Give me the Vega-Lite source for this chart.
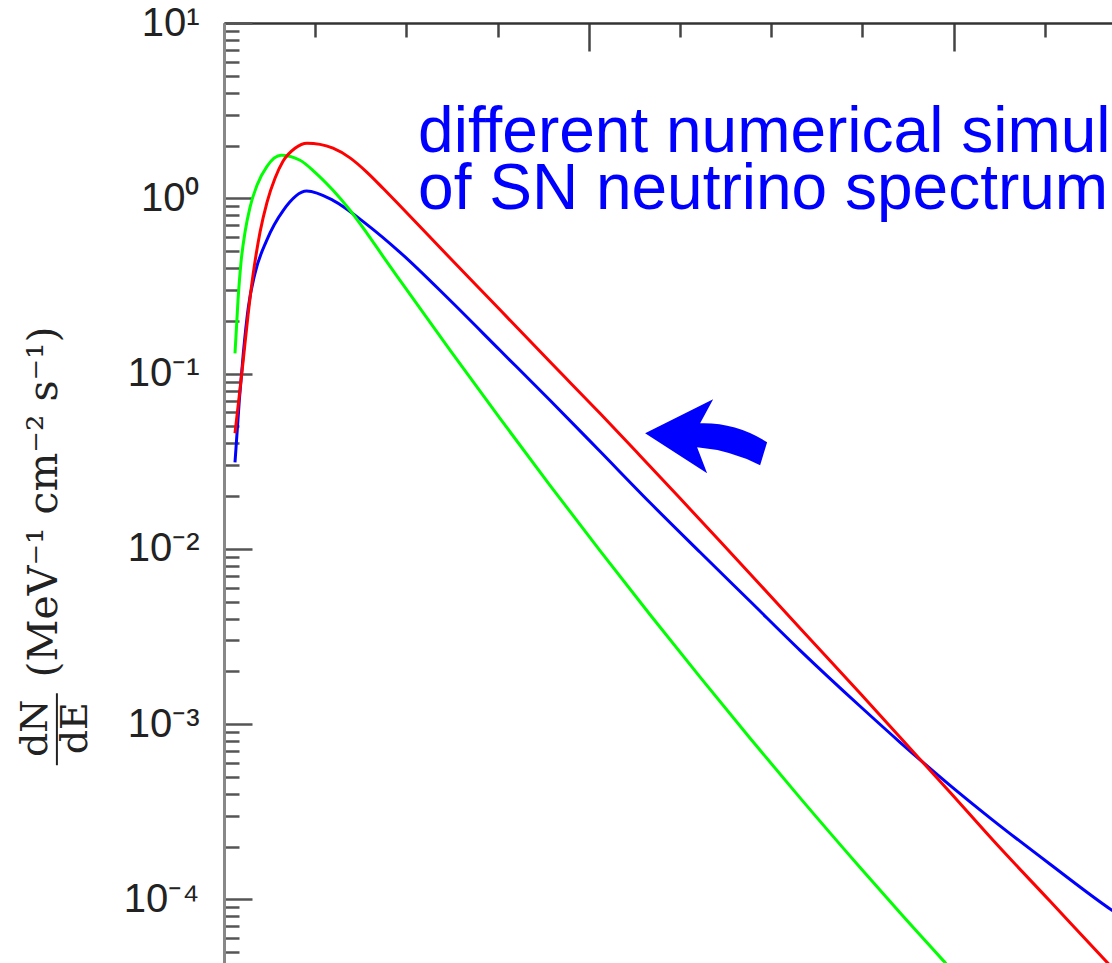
{
  "$schema": "https://vega.github.io/schema/vega-lite/v6.json",
  "width": 888,
  "height": 940,
  "autosize": {"type": "none"},
  "padding": {"left": 224, "top": 23, "right": 0, "bottom": 0},
  "background": "white",
  "config": {"view": {"stroke": null}},
  "data": {
    "values": [
      {"series": "blue", "E": 0.603, "dNdE": 0.03114},
      {"series": "blue", "E": 0.839, "dNdE": 0.07036},
      {"series": "blue", "E": 1.058, "dNdE": 0.1304},
      {"series": "blue", "E": 1.332, "dNdE": 0.2385},
      {"series": "blue", "E": 1.7, "dNdE": 0.3731},
      {"series": "blue", "E": 2.341, "dNdE": 0.5755},
      {"series": "blue", "E": 3.251, "dNdE": 0.8538},
      {"series": "blue", "E": 4.534, "dNdE": 1.1},
      {"series": "blue", "E": 5.976, "dNdE": 0.9736},
      {"series": "blue", "E": 7.823, "dNdE": 0.7101},
      {"series": "blue", "E": 9.649, "dNdE": 0.4916},
      {"series": "blue", "E": 12.39, "dNdE": 0.2617},
      {"series": "blue", "E": 15.13, "dNdE": 0.1357},
      {"series": "blue", "E": 17.87, "dNdE": 0.07036},
      {"series": "blue", "E": 20.61, "dNdE": 0.03598},
      {"series": "blue", "E": 23.36, "dNdE": 0.0183},
      {"series": "blue", "E": 26.1, "dNdE": 0.009548},
      {"series": "blue", "E": 28.84, "dNdE": 0.005016},
      {"series": "blue", "E": 31.58, "dNdE": 0.002634},
      {"series": "blue", "E": 34.87, "dNdE": 0.001263},
      {"series": "blue", "E": 37.06, "dNdE": 0.000787},
      {"series": "blue", "E": 39.8, "dNdE": 0.000447},
      {"series": "blue", "E": 42.16, "dNdE": 0.0002823},
      {"series": "blue", "E": 45.29, "dNdE": 0.0001584},
      {"series": "blue", "E": 48.68, "dNdE": 0.0000865},
      {"series": "blue", "E": 49.67, "dNdE": 0.0000739},
      {"series": "green", "E": 0.603, "dNdE": 0.1304},
      {"series": "green", "E": 0.768, "dNdE": 0.2617},
      {"series": "green", "E": 0.932, "dNdE": 0.4311},
      {"series": "green", "E": 1.151, "dNdE": 0.6393},
      {"series": "green", "E": 1.425, "dNdE": 0.888},
      {"series": "green", "E": 1.809, "dNdE": 1.186},
      {"series": "green", "E": 2.357, "dNdE": 1.522},
      {"series": "green", "E": 3.125, "dNdE": 1.758},
      {"series": "green", "E": 4.167, "dNdE": 1.647},
      {"series": "green", "E": 4.989, "dNdE": 1.406},
      {"series": "green", "E": 5.976, "dNdE": 1.11},
      {"series": "green", "E": 6.908, "dNdE": 0.8538},
      {"series": "green", "E": 7.84, "dNdE": 0.631},
      {"series": "green", "E": 8.717, "dNdE": 0.4665},
      {"series": "green", "E": 9.649, "dNdE": 0.3402},
      {"series": "green", "E": 12.39, "dNdE": 0.136},
      {"series": "green", "E": 15.13, "dNdE": 0.05544},
      {"series": "green", "E": 17.87, "dNdE": 0.02303},
      {"series": "green", "E": 20.61, "dNdE": 0.00975},
      {"series": "green", "E": 23.36, "dNdE": 0.004205},
      {"series": "green", "E": 26.1, "dNdE": 0.001851},
      {"series": "green", "E": 28.84, "dNdE": 0.000829},
      {"series": "green", "E": 31.58, "dNdE": 0.000379},
      {"series": "green", "E": 34.87, "dNdE": 0.0001518},
      {"series": "green", "E": 37.06, "dNdE": 0.0000837},
      {"series": "green", "E": 39.64, "dNdE": 0.0000423},
      {"series": "green", "E": 40.9, "dNdE": 0.0000304},
      {"series": "red", "E": 0.603, "dNdE": 0.0456},
      {"series": "red", "E": 0.822, "dNdE": 0.07222},
      {"series": "red", "E": 1.042, "dNdE": 0.1159},
      {"series": "red", "E": 1.316, "dNdE": 0.2149},
      {"series": "red", "E": 1.59, "dNdE": 0.3634},
      {"series": "red", "E": 1.974, "dNdE": 0.6393},
      {"series": "red", "E": 2.357, "dNdE": 0.9482},
      {"series": "red", "E": 2.796, "dNdE": 1.3},
      {"series": "red", "E": 3.235, "dNdE": 1.625},
      {"series": "red", "E": 3.893, "dNdE": 1.928},
      {"series": "red", "E": 4.55, "dNdE": 2.059},
      {"series": "red", "E": 5.263, "dNdE": 2.03},
      {"series": "red", "E": 5.976, "dNdE": 1.93},
      {"series": "red", "E": 6.908, "dNdE": 1.7},
      {"series": "red", "E": 7.84, "dNdE": 1.406},
      {"series": "red", "E": 8.717, "dNdE": 1.14},
      {"series": "red", "E": 9.649, "dNdE": 0.9057},
      {"series": "red", "E": 12.39, "dNdE": 0.456},
      {"series": "red", "E": 15.13, "dNdE": 0.231},
      {"series": "red", "E": 17.87, "dNdE": 0.1166},
      {"series": "red", "E": 20.61, "dNdE": 0.05929},
      {"series": "red", "E": 22.81, "dNdE": 0.03397},
      {"series": "red", "E": 25.0, "dNdE": 0.01941},
      {"series": "red", "E": 27.19, "dNdE": 0.01103},
      {"series": "red", "E": 29.39, "dNdE": 0.00623},
      {"series": "red", "E": 31.58, "dNdE": 0.003517},
      {"series": "red", "E": 34.87, "dNdE": 0.001498},
      {"series": "red", "E": 37.06, "dNdE": 0.00084},
      {"series": "red", "E": 39.8, "dNdE": 0.000408},
      {"series": "red", "E": 42.16, "dNdE": 0.0002171},
      {"series": "red", "E": 45.29, "dNdE": 0.0000974},
      {"series": "red", "E": 48.41, "dNdE": 0.0000437},
      {"series": "red", "E": 49.4, "dNdE": 0.000034}
    ]
  },
  "layer": [
    {
      "mark": {"type": "line", "clip": true, "strokeWidth": 3, "interpolate": "monotone"},
      "encoding": {
        "x": {
          "field": "E", "type": "quantitative",
          "scale": {"domain": [0, 48.68], "nice": false, "zero": false},
          "axis": {
            "orient": "top", "values": [0, 5, 10, 15, 20, 25, 30, 35, 40, 45],
            "labels": false, "title": null, "grid": false,
            "domainColor": "#333", "domainWidth": 2.5,
            "tickColor": "#444", "tickWidth": 2.5,
            "tickSize": {"condition": {"test": "datum.value % 20 == 0", "value": -28}, "value": -14}
          }
        },
        "y": {
          "field": "dNdE", "type": "quantitative",
          "scale": {"type": "log", "domain": [0.0000433, 10], "nice": false},
          "axis": {
            "orient": "left", "title": null, "grid": false,
            "values": [10, 1, 0.1, 0.01, 0.001, 0.0001,
              9, 8, 7, 6, 5, 4, 3, 2,
              0.9, 0.8, 0.7, 0.6, 0.5, 0.4, 0.3, 0.2,
              0.09, 0.08, 0.07, 0.06, 0.05, 0.04, 0.03, 0.02,
              0.009, 0.008, 0.007, 0.006, 0.005, 0.004, 0.003, 0.002,
              0.0009, 0.0008, 0.0007, 0.0006, 0.0005, 0.0004, 0.0003, 0.0002,
              0.00009, 0.00008, 0.00007, 0.00006, 0.00005],
            "labelExpr": "datum.value == 10 ? '10¹' : datum.value == 1 ? '10⁰' : datum.value == 0.1 ? '10⁻¹' : datum.value == 0.01 ? '10⁻²' : datum.value == 0.001 ? '10⁻³' : datum.value == 0.0001 ? '10⁻⁴' : ''",
            "labelFont": "Liberation Sans", "labelFontSize": 40, "labelColor": "#222",
            "labelPadding": 53, "labelOverlap": false, "labelBound": false, "labelFlush": false,
            "domainColor": "#888", "domainWidth": 3,
            "tickColor": "#555", "tickWidth": 2.5,
            "tickSize": {"condition": {"test": "datum.value == 10 || datum.value == 1 || datum.value == 0.1 || datum.value == 0.01 || datum.value == 0.001 || datum.value == 0.0001", "value": -28}, "value": -15}
          }
        },
        "color": {
          "field": "series", "type": "nominal",
          "scale": {"domain": ["blue", "green", "red"], "range": ["#0000ff", "#00ff00", "#ff0000"]},
          "legend": null
        }
      }
    },
    {
      "data": {"values": [{}]},
      "mark": {"type": "text", "text": ["different numerical simulations", "of SN neutrino spectrum"], "font": "Liberation Sans", "fontSize": 64, "color": "#0000ff", "align": "left", "baseline": "alphabetic", "lineHeight": 57},
      "encoding": {"x": {"datum": 10.64}, "y": {"datum": 1.83}}
    },
    {
      "data": {"values": [{}]},
      "mark": {"type": "point", "shape": "M-1,-0.05 L0.115,-0.607 L-0.098,-0.213 Q0.49,-0.23 1,0.098 L0.885,0.475 Q0.41,0.23 -0.148,0.18 L0.016,0.607 Z", "filled": true, "color": "#0000ff", "opacity": 1, "size": 14884, "strokeWidth": 0},
      "encoding": {"x": {"datum": 26.43}, "y": {"datum": 0.04384}}
    },
    {
      "data": {"values": [{}]},
      "mark": {"type": "text", "text": "(MeV⁻¹    cm⁻²    s⁻¹)", "font": "DejaVu Serif", "fontSize": 41, "color": "#222", "angle": 270, "align": "center", "baseline": "middle"},
      "encoding": {"x": {"datum": -9.81}, "y": {"datum": 0.0185}}
    },
    {
      "data": {"values": [{}]},
      "mark": {"type": "text", "text": "dN", "font": "DejaVu Serif", "fontSize": 38, "color": "#222", "angle": 270, "align": "center", "baseline": "middle"},
      "encoding": {"x": {"datum": -10.3}, "y": {"datum": 0.000946}}
    },
    {
      "data": {"values": [{}]},
      "mark": {"type": "text", "text": "dE", "font": "DejaVu Serif", "fontSize": 38, "color": "#222", "angle": 270, "align": "center", "baseline": "middle"},
      "encoding": {"x": {"datum": -8.1}, "y": {"datum": 0.000946}}
    },
    {
      "data": {"values": [{}]},
      "mark": {"type": "rule", "color": "#222", "strokeWidth": 2},
      "encoding": {"x": {"datum": -9.16}, "y": {"datum": 0.001498}, "y2": {"datum": 0.000582}}
    }
  ]
}
